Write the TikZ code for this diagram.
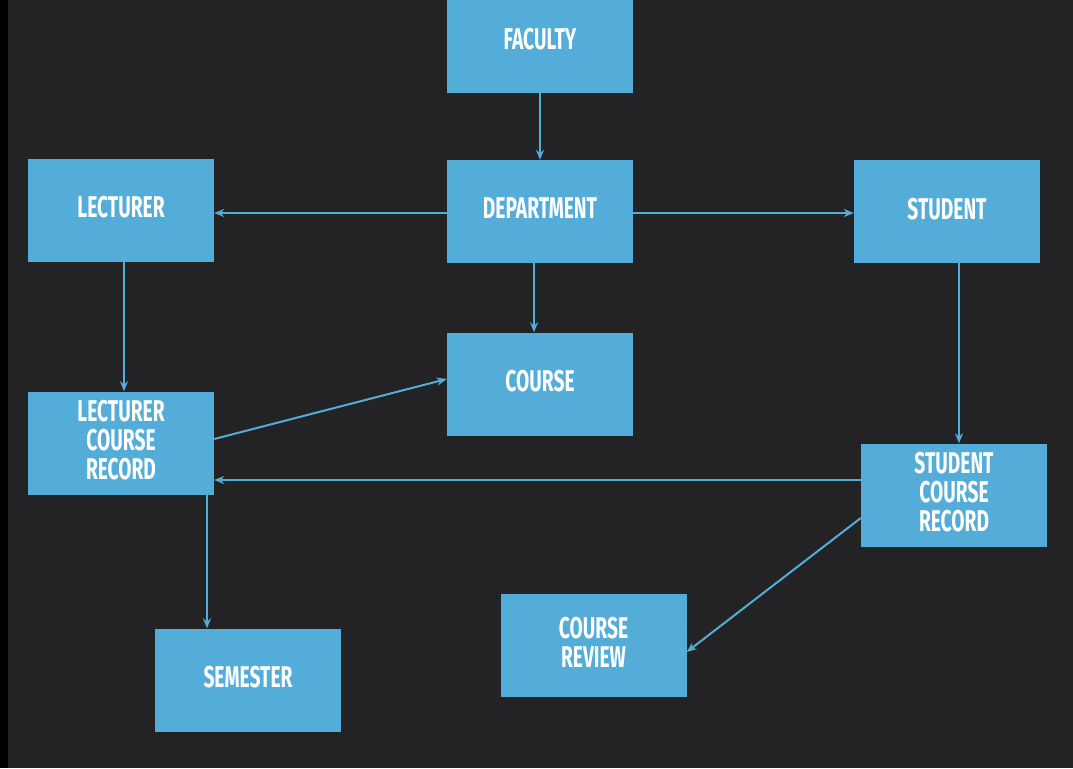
\documentclass[tikz,border=0pt]{standalone}
\usepackage{fontspec}
\newfontfamily\dinfont[FakeStretch=0.64]{Fira Sans}
\usetikzlibrary{arrows.meta}
\definecolor{bgc}{HTML}{232325}
\definecolor{boxc}{HTML}{53ADD8}
\definecolor{edgec}{HTML}{000000}
\tikzset{
  ent/.style={rectangle, fill=boxc, draw=none, minimum width=186pt, minimum height=103pt,
    inner sep=0pt, text=white, align=center, text depth=6pt,
    font=\dinfont\bfseries\fontsize{30}{29}\selectfont},
  conn/.style={draw=boxc, line width=2pt, -{Stealth[length=10pt,width=8pt]}}
}
\begin{document}
\begin{tikzpicture}[x=1pt,y=-1pt]
\useasboundingbox (0,0) rectangle (1073,768);
\fill[bgc] (0,0) rectangle (1073,768);
\fill[edgec] (0,0) rectangle (7.5,768);
\begin{scope}
\clip (0,0) rectangle (1073,768);
\node[ent] (fac) at (540,41.5) {FACULTY};
\end{scope}
\node[ent] (dep) at (540,211.5) {DEPARTMENT};
\node[ent] (lec) at (121,210) {LECTURER};
\node[ent] (stu) at (947,211.5) {STUDENT};
\node[ent] (cou) at (540,384) {COURSE};
\node[ent] (lcr) at (121,443) {LECTURER\\COURSE\\RECORD};
\node[ent] (scr) at (954,495) {STUDENT\\COURSE\\RECORD};
\node[ent] (crv) at (593.5,645.5) {COURSE\\REVIEW};
\node[ent] (sem) at (248,680) {SEMESTER};
\draw[conn] (fac.south) -- (dep.north);
\draw[conn] ([yshift=-1.5pt]dep.west) -- ([yshift=-1.5pt]dep.west -| lec.east);
\draw[conn] ([yshift=-1.5pt]dep.east) -- ([yshift=-1.5pt]dep.east -| stu.west);
\draw[conn] ([xshift=-6pt]dep.south) -- ([xshift=-6pt]cou.north);
\draw[conn] ([xshift=3pt]lec.south) -- ([xshift=3pt]lcr.north);
\draw[conn] ([yshift=4pt]lcr.east) -- ([yshift=5pt]cou.west);
\draw[conn] ([xshift=12pt]stu.south) -- ([xshift=12pt]stu.south |- scr.north);
\draw[conn] ([yshift=15pt]scr.west) -- ([yshift=15pt]scr.west -| lcr.east);
\draw[conn] ([yshift=-23pt]scr.west) -- ([yshift=-6.5pt]crv.east);
\draw[conn] ([xshift=86pt]lcr.south) -- ([xshift=86pt]lcr.south |- sem.north);
\end{tikzpicture}
\end{document}
